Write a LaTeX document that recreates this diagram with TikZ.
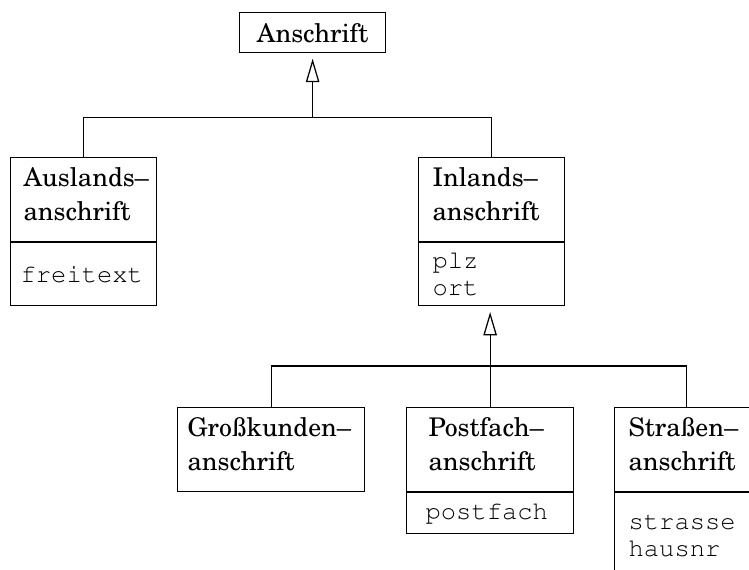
\documentclass[tikz,border=0pt]{standalone}
\usepackage[T1]{fontenc}
\usepackage{newcent}
\usetikzlibrary{arrows.meta}
\hyphenpenalty=10000
\exhyphenpenalty=10000

\tikzset{
  klasse/.style={draw, line width=.5pt, anchor=north west, align=left,
    inner ysep=0pt, minimum height=33.6pt, text depth=18.2pt,
    font=\fontsize{10.3pt}{13.6pt}\selectfont},
  attribut/.style={draw, line width=.5pt, anchor=north west, align=left,
    inner ysep=0pt, minimum height=25.2pt,
    font=\ttfamily\fontsize{10.2pt}{10.8pt}\selectfont},
  vererbung/.style={-{Triangle[open,length=9.4pt,width=5.4pt]}, shorten >=2.2pt},
}

\begin{document}
\begin{tikzpicture}[x=0.4pt,y=-0.4pt,line width=.5pt]
\useasboundingbox (0,0) rectangle (749,570);
\node[klasse, minimum width=58.4pt, minimum height=16pt, text depth=0pt] (anschrift) at (239,12) {Anschrift};
\node[klasse, text width=48pt, inner xsep=5.2pt] (ausland) at (10,157) {Auslands--\\anschrift};
\node[attribut, text width=50.4pt, inner xsep=4pt] (ausattr) at (ausland.south west) {freitext};
\node[klasse, text width=47.2pt, inner xsep=5.6pt] (inland) at (418,157) {Inlands--\\anschrift};
\node[attribut, text width=47.2pt, inner xsep=5.6pt] (inattr) at (inland.south west) {plz\\ort};
\node[klasse, text width=66.8pt, inner xsep=4pt] (gross) at (177,407) {Gro\ss kunden--\\anschrift};
\node[klasse, text width=49.2pt, inner xsep=8.8pt] (post) at (406,407) {Postfach--\\anschrift};
\node[attribut, text width=51.6pt, inner xsep=7.6pt, minimum height=16.4pt] (postattr) at (post.south west) {postfach};
\node[klasse, text width=46.4pt, inner xsep=5.6pt] (strasse) at (614,407) {Stra\ss en--\\anschrift};
\node[attribut, text width=46.4pt, inner xsep=5.6pt, inner ysep=8.8pt, text depth=24pt] (strattr) at (strasse.south west) {strasse\\hausnr};
% Vererbung
\path (anschrift.south) ++(0,64) coordinate (bus1);
\draw (ausland.north) |- (bus1) -| (inland.north);
\draw[vererbung] (bus1) -- (anschrift.south);
\path (post.north) ++(0,-41) coordinate (bus2);
\draw (gross.north) |- (bus2) -| (strasse.north);
\draw[vererbung] (post.north) -- (post.north |- inattr.south);
\end{tikzpicture}
\end{document}
